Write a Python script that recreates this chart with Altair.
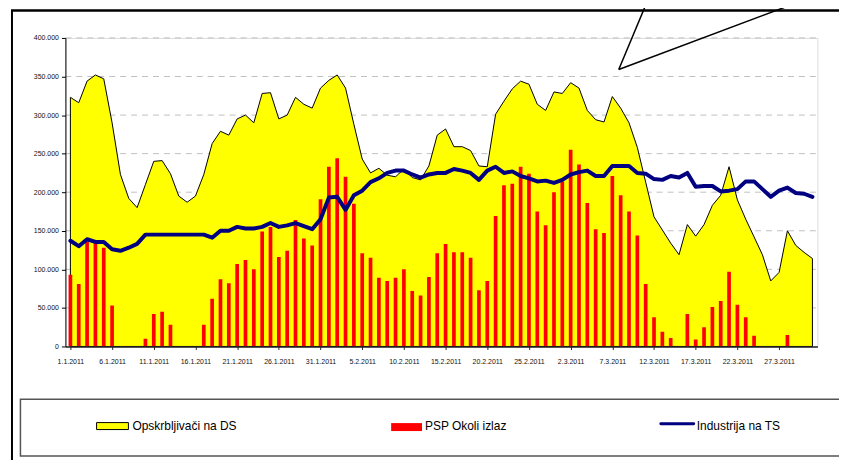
import altair as alt
import pandas as pd

# ---------------- data ----------------
opskrbljivaci = [323, 316, 344, 352, 347, 290, 223, 192, 180, 210,
                 240, 241, 224, 195, 187, 195, 223, 263, 279, 274,
                 295, 300, 290, 328, 329, 295, 300, 323, 314, 309,
                 335, 345, 352, 335, 288, 243, 225, 231, 222, 220,
                 230, 219, 216, 234, 274, 282, 259, 259, 254, 234,
                 233, 301, 318, 334, 344, 340, 314, 306, 330, 328,
                 342, 335, 306, 294, 291, 324, 309, 290, 258, 213,
                 168, 151, 134, 119, 158, 143, 158, 183, 196, 233,
                 190, 165, 142, 119, 85, 96, 150, 131, 122, 114]

psp_okoli = [93, 81, 136, 134, 128, 53, 0, 0, 0, 10,
             42, 45, 28, 0, 0, 0, 28, 62, 87, 82,
             107, 112, 100, 149, 155, 116, 124, 164, 140, 131,
             191, 233, 244, 220, 185, 121, 115, 89, 85, 89,
             100, 72, 66, 90, 121, 133, 122, 122, 115, 73,
             85, 169, 209, 211, 233, 224, 175, 157, 200, 214,
             255, 236, 186, 152, 147, 221, 196, 175, 144, 81,
             38, 19, 11, 0, 42, 9, 25, 51, 59, 97,
             54, 38, 14, 0, 0, 0, 15, 0, 0, 0]

industrija = [137, 130, 139, 135.5, 135.5, 126, 124, 128, 133, 145,
              145, 145, 145, 145, 145, 145, 145, 141, 150, 150,
              155, 153, 153, 155, 160, 155, 157, 160, 156, 152,
              165, 193, 194, 177, 196, 202, 213, 218, 225, 228,
              228, 223, 219, 223, 225, 225, 230, 228, 225, 216,
              228, 233, 225, 227, 221, 218, 214, 215, 212, 216,
              223, 226, 228, 221, 221, 234, 234, 234, 225, 224,
              217, 216, 221, 219, 225, 207, 208, 208, 201, 202,
              204, 214, 214, 204, 194, 202, 206, 199, 198, 194]

tick_labels = ["1.1.2011", "6.1.2011", "11.1.2011", "16.1.2011", "21.1.2011",
               "26.1.2011", "31.1.2011", "5.2.2011", "10.2.2011", "15.2.2011",
               "20.2.2011", "25.2.2011", "2.3.2011", "7.3.2011", "12.3.2011",
               "17.3.2011", "22.3.2011", "27.3.2011"]
y_ticks = [0, 50000, 100000, 150000, 200000, 250000, 300000, 350000, 400000]
legend_labels = ["Opskrbljivači na DS", "PSP Okoli izlaz", "Industrija na TS"]

days = pd.date_range("2011-01-01", "2011-03-31", freq="D")
dates = [f"{d.day}.{d.month}.{d.year}" for d in days]

df = pd.DataFrame({
    "i": list(range(len(dates))),
    "datum": dates,
    "ops": [v * 1000 for v in opskrbljivaci],
    "psp": [v * 1000 for v in psp_okoli],
    "ind": [v * 1000 for v in industrija],
})

# ---------------- layout ----------------
OX, OY = 65.7, 37.0          # page position of plot origin
W, H = 755.6, 310.0
FONT = "Liberation Sans"


def px(x):
    return x - OX


def py(y):
    return y - OY


xscale = alt.Scale(domain=[0, len(dates) - 1], nice=False, zero=False)
yscale = alt.Scale(domain=[0, 400000], nice=False)

label_js = "[" + ",".join(f"'{t}'" for t in tick_labels) + "]"

x_axis = alt.Axis(values=list(range(0, 90, 5)),
                  labelExpr=f"{label_js}[floor(datum.value/5)]",
                  grid=False, zindex=1, domainColor="#222222",
                  domainWidth=1.6, tickColor="#222222", tickSize=3,
                  labelFontSize=7, labelFont=FONT, labelColor="#111111",
                  labelPadding=8, labelAngle=0, labelOverlap=False,
                  labelFlush=False, title=None)
y_axis = alt.Axis(values=y_ticks, grid=False, zindex=1,
                  labelExpr="replace(format(datum.value, ','), ',', '.')",
                  domainColor="black", domainWidth=1, tickColor="black",
                  tickSize=4, labelFontSize=7, labelFont=FONT,
                  labelColor="#111111", labelPadding=3, title=None)


def X(field):
    return alt.X(field, scale=xscale, axis=x_axis, title=None)


def Y(field):
    return alt.Y(field, scale=yscale, axis=y_axis, title=None)


base = alt.Chart(df)

grid = alt.Chart(pd.DataFrame({"v": y_ticks[1:]})).mark_rule(
    color="#c0c0c0", strokeDash=[6, 5], strokeWidth=1
).encode(
    y=Y("v:Q"),
    x=alt.value(0),
    x2=alt.value(W + 1),
)

area = base.mark_area(
    fill="#FFFF00", stroke="black", strokeWidth=1, strokeJoin="round"
).encode(x=X("i:Q"), y=Y("ops:Q"))

bars = base.mark_bar(color="#FF0000", size=3.7, clip=True,
                     orient="vertical").encode(x=X("i:Q"), y=Y("psp:Q"))

line = base.mark_line(color="#000080", strokeWidth=4, strokeJoin="round",
                      strokeCap="round").encode(x=X("i:Q"), y=Y("ind:Q"))

one = alt.Chart(pd.DataFrame({"k": [0]}))

frame = one.mark_rect(fillOpacity=0, stroke="black", strokeWidth=2).encode(
    x=alt.value(px(12)), x2=alt.value(px(900)),
    y=alt.value(py(9.5)), y2=alt.value(py(520)),
)
frame_top = one.mark_rule(color="black", strokeWidth=2).encode(
    x=alt.value(px(11)), x2=alt.value(px(900)),
    y=alt.value(py(9.5)), y2=alt.value(py(9.5)),
)

callout_a = one.mark_rule(color="black", strokeWidth=1.5).encode(
    x=alt.value(px(650)), y=alt.value(py(1)),
    x2=alt.value(px(621.7)), y2=alt.value(py(68.7)),
)
callout_b = one.mark_rule(color="black", strokeWidth=1.5).encode(
    x=alt.value(px(621.7)), y=alt.value(py(68.7)),
    x2=alt.value(px(802.3)), y2=alt.value(py(1)),
)

legend_box = one.mark_rect(fill="white", stroke="#555555", strokeWidth=1.5).encode(
    x=alt.value(px(20.5)), x2=alt.value(px(900)),
    y=alt.value(py(400)), y2=alt.value(py(457)),
)

leg_yellow = one.mark_rect(fill="#FFFF00", stroke="black", strokeWidth=1).encode(
    x=alt.value(px(97)), x2=alt.value(px(129)),
    y=alt.value(py(423.5)), y2=alt.value(py(430.5)),
)
leg_red = one.mark_rect(fill="#FF0000").encode(
    x=alt.value(px(393)), x2=alt.value(px(424)),
    y=alt.value(py(424)), y2=alt.value(py(432)),
)
leg_blue = one.mark_rule(color="#000080", strokeWidth=3, strokeCap="round").encode(
    x=alt.value(px(664)), x2=alt.value(px(697)),
    y=alt.value(py(424.7)), y2=alt.value(py(424.7)),
)


def leg_text(label, x):
    return one.mark_text(align="left", baseline="middle", fontSize=12,
                         font=FONT, color="black").encode(
        x=alt.value(px(x)), y=alt.value(py(427)), text=alt.value(label))


texts = [leg_text(legend_labels[0], 133), leg_text(legend_labels[1], 427),
         leg_text(legend_labels[2], 700)]

chart = alt.layer(
    grid, area, bars, line, frame, frame_top, callout_a, callout_b,
    legend_box, leg_yellow, leg_red, leg_blue, *texts
).properties(
    width=W, height=H,
    padding={"left": OX - 8, "top": OY - 8, "right": 835 - (OX - 8) - W,
             "bottom": 452 - (OY - 8) - H},
    autosize=alt.AutoSizeParams(type="none"),
    background="white",
).configure_view(stroke=None).configure(font=FONT)

chart.save("out.html", embed_options={"renderer": "svg", "actions": False})
